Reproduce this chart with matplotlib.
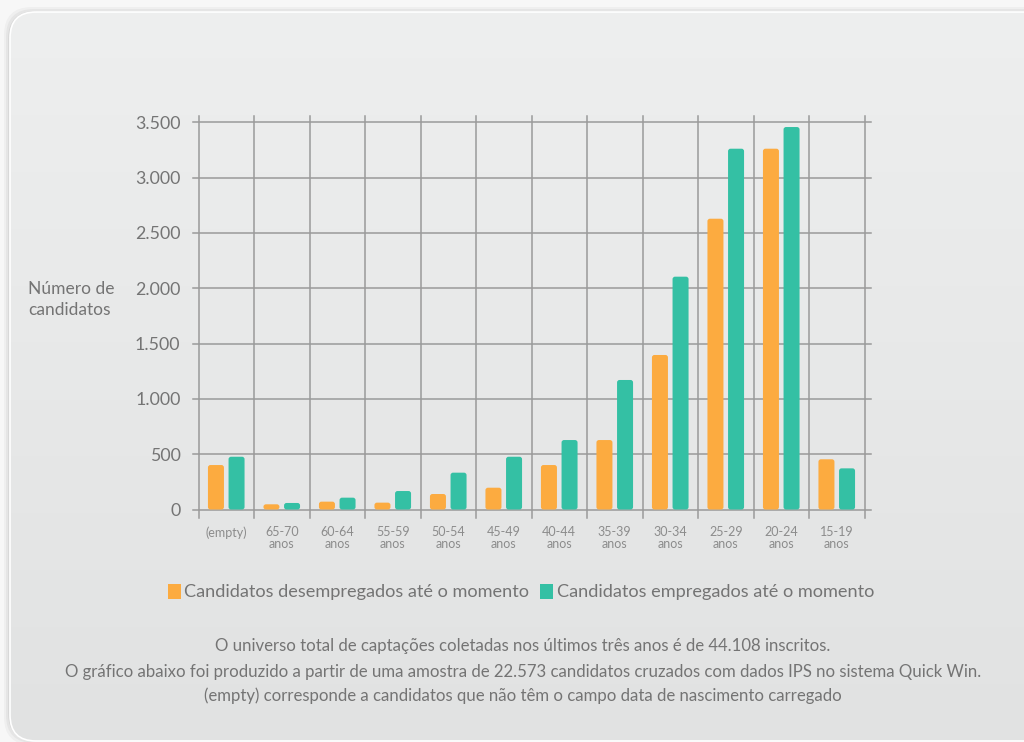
import matplotlib
matplotlib.use("Agg")
import matplotlib.pyplot as plt
import numpy as np
from matplotlib.patches import FancyBboxPatch, Patch
from matplotlib.colors import LinearSegmentedColormap

plt.rcParams['font.family'] = ['Lato', 'DejaVu Sans']

categories = ["(empty)", "65-70\nanos", "60-64\nanos", "55-59\nanos", "50-54\nanos",
              "45-49\nanos", "40-44\nanos", "35-39\nanos", "30-34\nanos",
              "25-29\nanos", "20-24\nanos", "15-19\nanos"]
desempregados = [402, 47, 71, 62, 140, 197, 402, 628, 1397, 2629, 3262, 454]
empregados = [477, 59, 107, 167, 333, 477, 628, 1171, 2105, 3262, 3458, 372]
yticks = [0, 500, 1000, 1500, 2000, 2500, 3000, 3500]
yticklabels = ["0", "500", "1.000", "1.500", "2.000", "2.500", "3.000", "3.500"]
series_names = ["Candidatos desempregados até o momento", "Candidatos empregados até o momento"]
footer = ["O universo total de captações coletadas nos últimos três anos é de 44.108 inscritos.",
          "O gráfico abaixo foi produzido a partir de uma amostra de 22.573 candidatos cruzados com dados IPS no sistema Quick Win.",
          "(empty) corresponde a candidatos que não têm o campo data de nascimento carregado"]

ORANGE = "#FCAB40"
TEAL = "#34C0A4"
GRID = "#9a9a9a"
TXT = "#747474"

W, H = 1024, 742
fig = plt.figure(figsize=(W / 100, H / 100), dpi=100)
fig.patch.set_facecolor("#f7f7f7")

# background card
bg = fig.add_axes([0, 0, 1, 1], zorder=-5)
bg.set_xlim(0, W)
bg.set_ylim(H, 0)
bg.axis("off")
for i, a in enumerate([0.05, 0.04, 0.03]):
    sh = FancyBboxPatch((10 - 2 - i * 2, 12 - 1 - i * 2), 1060 + 4 * i, 730 + 4 * i,
                        boxstyle="round,pad=0,rounding_size=28", fc="black", ec="none",
                        alpha=a, transform=bg.transData)
    bg.add_patch(sh)
card = FancyBboxPatch((10, 12), 1060, 729, boxstyle="round,pad=0,rounding_size=26",
                      fc="none", ec="white", lw=1.2, transform=bg.transData, zorder=3)
bg.add_patch(card)
grad = np.linspace(0, 1, 256).reshape(-1, 1)
cmap = LinearSegmentedColormap.from_list("g", ["#eeefef", "#e1e2e2"])
im = bg.imshow(grad, cmap=cmap, extent=[0, W, H, 0], aspect="auto", zorder=1)
im.set_clip_path(card)

# main axes
x0, x1 = 198.5, 864.5
y_top_px, y0_px = 116.3, 509.5
ax = fig.add_axes([x0 / W, (H - y0_px) / H, (x1 - x0) / W, (y0_px - y_top_px) / H])
ax.patch.set_alpha(0)
ymax = 3555
ax.set_xlim(-0.5, len(categories) - 0.5)
ax.set_ylim(0, ymax)
for s in ax.spines.values():
    s.set_visible(False)

xpx = (x1 - x0) / len(categories)
ypx = 500 / 55.3
ext_x = 6 / xpx
ext_y = 8 * ypx
for yv in yticks:
    ax.plot([-0.5 - ext_x, len(categories) - 0.5 + ext_x], [yv, yv], color=GRID, lw=1.1,
            clip_on=False, zorder=1)
for b in np.arange(-0.5, len(categories), 1.0):
    ax.plot([b, b], [-ext_y, ymax], color=GRID, lw=1.1, clip_on=False, zorder=1)

x = np.arange(len(categories))
off = 10.3 / xpx
bw = 16 / xpx
rs = 2.5 / xpx
for vals, col, sgn in [(desempregados, ORANGE, -1), (empregados, TEAL, 1)]:
    for xi, v in zip(x, vals):
        p = FancyBboxPatch((xi + sgn * off - bw / 2, 0), bw, v,
                           boxstyle=f"round,pad=0,rounding_size={rs}",
                           mutation_aspect=ypx * xpx, fc=col, ec="none", zorder=3)
        ax.add_patch(p)

ax.set_yticks(yticks)
ax.set_yticklabels(yticklabels, fontsize=12.8, color=TXT)
ax.set_xticks(x)
ax.set_xticklabels(categories, fontsize=9, color="#8c8c8c", linespacing=0.95)
ax.tick_params(axis="y", length=0, pad=13)
ax.tick_params(axis="x", length=0, pad=12)

fig.text(28 / W, 1 - 299.5 / H, "Número de\ncandidatos", ha="left", va="center",
         fontsize=12.5, color=TXT, linespacing=1.4)

handles = [Patch(fc=ORANGE, ec="none"), Patch(fc=TEAL, ec="none")]
leg = fig.legend(handles, series_names, loc="center", bbox_to_anchor=(521 / W, 1 - 592 / H),
                 ncol=2, frameon=False, handlelength=0.7, handleheight=0.9,
                 handletextpad=0.2, columnspacing=0.6, prop={"size": 13.1})
for t in leg.get_texts():
    t.set_color(TXT)

for i, (line, yy) in enumerate(zip(footer, [646, 672, 696])):
    fig.text(523 / W, 1 - yy / H, line, ha="center", va="center", fontsize=12.05,
             color=TXT)

fig.savefig("out.png", dpi=100, facecolor=fig.get_facecolor())
